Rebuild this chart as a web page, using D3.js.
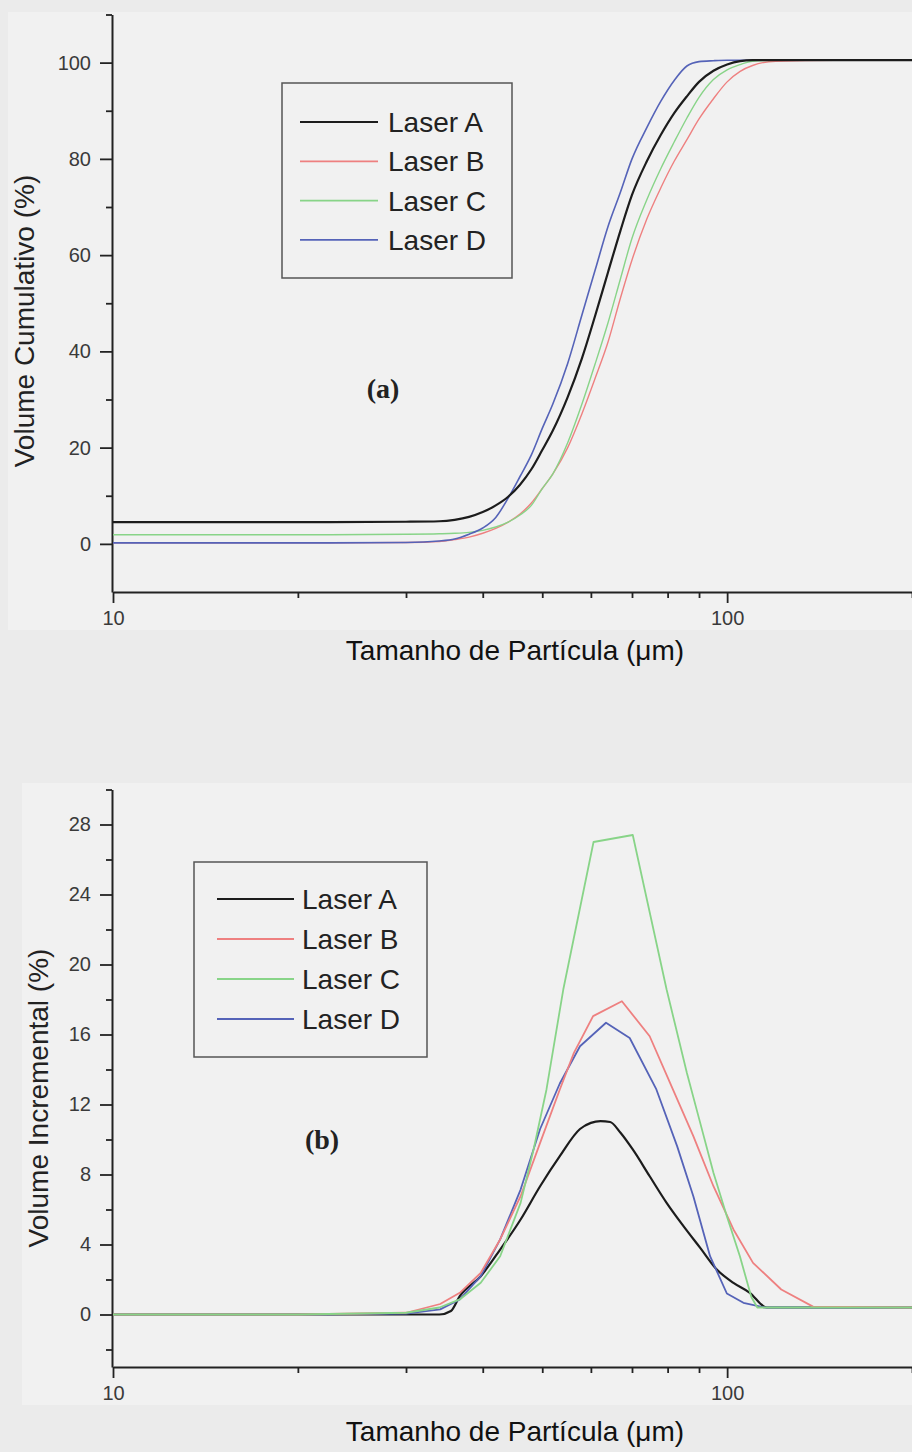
<!DOCTYPE html>
<html lang="pt">
<head>
<meta charset="UTF-8">
<title>Distribuição granulométrica - Laser A, B, C, D</title>
<script src="https://cdnjs.cloudflare.com/ajax/libs/d3/7.8.5/d3.min.js"></script>
<style>
    body { margin: 0; background: #ebebeb; }
    svg { display: block; }
    .axis text { font-family: "Liberation Sans", Arial, sans-serif; font-size: 20px; fill: #3a3a3a; }
    .axis .domain { stroke: #222; stroke-width: 2; }
    .axis line { stroke: #222; stroke-width: 1.8; }
</style>
</head>
<body>
<svg></svg>
<script>

    var width = 912;
    var height = 1452;

    var laserNames = ["Laser A", "Laser B", "Laser C", "Laser D"];
    var laserColors = ["#1c1c1c", "#ee8080", "#88d488", "#5563b8"];

    // (a) volume cumulativo, tamanho em micrometros
    var sizesCum = [10, 20, 30, 34, 36, 38, 40, 42, 44, 46, 48, 50, 52, 55, 58, 61, 64, 67, 70, 74,
                    78, 82, 86, 90, 95, 100, 105, 110, 120, 150, 200];
    var cumA = [4.5, 4.5, 4.6, 4.7, 5.0, 5.6, 6.6, 8.0, 9.8, 12.3, 15.5, 19.5, 23.5, 30.5, 38.5, 47.5, 56.5, 65, 72.5, 79.5,
                85, 89.5, 93, 96, 98.3, 99.6, 100.3, 100.5, 100.5, 100.5, 100.5];
    var cumB = [0.2, 0.2, 0.3, 0.5, 0.9, 1.4, 2.2, 3.2, 4.5, 6.2, 8.5, 11.5, 14.5, 20, 27, 34.5, 42, 51, 59, 67.5,
                74, 79.5, 84, 88.3, 92.5, 96, 98.2, 99.4, 100.3, 100.5, 100.5];
    var cumC = [1.9, 1.9, 2.0, 2.1, 2.2, 2.4, 2.8, 3.5, 4.5, 6.0, 8.0, 11.5, 14.5, 21, 29, 37.5, 46, 55, 63.5, 71.5,
                78, 83.5, 88.5, 92.8, 96.5, 98.5, 99.6, 100.3, 100.5, 100.5, 100.5];
    var cumD = [0.2, 0.2, 0.3, 0.6, 1.0, 2.0, 3.3, 5.5, 9.5, 14, 18.5, 24, 29, 37.5, 47.5, 57, 66, 73, 80, 86.5,
                92, 96.3, 99.3, 100.2, 100.4, 100.5, 100.5, 100.5, 100.5, 100.5, 100.5];

    // (b) volume incremental, cada laser com a sua grade de tamanhos
    var incSizesA = [10, 20, 30, 34, 35.5, 36.7, 39.7, 42.7, 46.1, 49.6, 53.4, 57.6, 60, 62.2, 64.5, 67, 70.2, 74.8, 79.7, 84.9,
                     90.4, 96.2, 102.4, 108.9, 116, 130, 200];
    var incA = [0, 0, 0, 0, 0.2, 1.05, 2.19, 3.71, 5.43, 7.33, 9.05, 10.6, 10.95, 11.05, 11.0, 10.4, 9.43, 7.9, 6.38, 5.05,
                3.81, 2.57, 1.81, 1.24, 0.4, 0.4, 0.4];
    var incSizesB = [10, 20, 30, 31.6, 34.1, 36.7, 39.7, 42.7, 46.1, 49.6, 53.4, 56.3, 60.5, 67.4, 74.8, 81.6, 88.1, 95.0, 102.4, 110.2,
                     122.5, 138, 200];
    var incB = [0, 0, 0.1, 0.3, 0.6, 1.24, 2.38, 4.29, 6.76, 9.81, 12.86, 14.95, 17.05, 17.9, 15.9, 12.86, 10.19, 7.33, 4.86, 2.95,
                1.43, 0.45, 0.4];
    var incSizesC = [10, 20, 30, 34, 36.7, 39.7, 42.7, 46.1, 48.4, 50.8, 54.1, 60.6, 70.2, 79.7, 86.0, 90.4, 95.0, 99.9, 104.9, 109.5,
                     112, 200];
    var incC = [0, 0, 0.1, 0.4, 0.86, 1.81, 3.33, 6.38, 9.43, 12.86, 18.57, 27.0, 27.4, 18.57, 13.8, 10.95, 8.1, 5.62, 3.33, 1.0,
                0.4, 0.4];
    var incSizesD = [10, 20, 30, 34.1, 36.7, 39.7, 42.7, 46.1, 49.6, 53.4, 57.6, 63.5, 69.4, 76.7, 82.9, 88.1, 93.8, 99.9, 106.3, 115,
                     200];
    var incD = [0, 0, 0.05, 0.29, 0.86, 2.19, 4.29, 7.14, 10.6, 13.2, 15.33, 16.67, 15.8, 12.86, 9.62, 6.76, 3.33, 1.2, 0.67, 0.4,
                0.4];

    var xMajor = [10, 100];
    var xMinor = [20, 30, 40, 50, 60, 70, 80, 90, 200];
    var yMajorCum = [0, 20, 40, 60, 80, 100];
    var yMinorCum = [10, 30, 50, 70, 90, 110];
    var yMajorInc = [0, 4, 8, 12, 16, 20, 24, 28];
    var yMinorInc = [-2, 2, 6, 10, 14, 18, 22, 26, 30];

    var xTitle = "Tamanho de Partícula (\u03bcm)";

    var svg = d3.select("svg").attr("width", width).attr("height", height);

    // fundo das duas figuras digitalizadas
    svg.append("rect").attr("x", 8).attr("y", 12).attr("width", 904).attr("height", 618).attr("fill", "#f1f1f1");
    svg.append("rect").attr("x", 22).attr("y", 783).attr("width", 890).attr("height", 622).attr("fill", "#f1f1f1");

    var drawPanel = function (p) {

        var x = d3.scaleLog().domain([10, 200]).range([113, 912]);
        var y = d3.scaleLinear().domain(p.yDomain).range([p.bottom, p.top]);
        var g = svg.append("g");

        // eixo x
        g.append("g").attr("class", "axis")
            .attr("transform", "translate(0," + p.bottom + ")")
            .call(d3.axisBottom(x).tickValues(xMajor).tickFormat(d3.format("d"))
                .tickSize(11).tickPadding(8).tickSizeOuter(0));
        g.append("g").attr("class", "axis")
            .attr("transform", "translate(0," + p.bottom + ")")
            .call(d3.axisBottom(x).tickValues(xMinor).tickFormat("").tickSize(6).tickSizeOuter(0))
            .select(".domain").remove();

        // eixo y
        g.append("g").attr("class", "axis")
            .attr("transform", "translate(112,0)")
            .call(d3.axisLeft(y).tickValues(p.yMajor).tickFormat(d3.format("d"))
                .tickSize(12).tickPadding(9).tickSizeOuter(0));
        g.append("g").attr("class", "axis")
            .attr("transform", "translate(112,0)")
            .call(d3.axisLeft(y).tickValues(p.yMinor).tickFormat("").tickSize(6).tickSizeOuter(0))
            .select(".domain").remove();

        // curvas
        p.series.forEach(function (s) {
            var line = d3.line()
                .x(function (d) { return x(d[0]); })
                .y(function (d) { return y(d[1]); })
                .curve(s.curve);
            g.append("path")
                .datum(d3.zip(s.sizes, s.values))
                .attr("d", line)
                .attr("fill", "none")
                .attr("stroke", s.color)
                .attr("stroke-width", s.width)
                .attr("stroke-linejoin", "round");
        });

        // legenda
        var lg = p.legend;
        g.append("rect")
            .attr("x", lg.x).attr("y", lg.y).attr("width", lg.w).attr("height", lg.h)
            .attr("fill", "none").attr("stroke", "#555").attr("stroke-width", 1.5);
        laserNames.forEach(function (name, i) {
            var ly = lg.y + lg.first + i * lg.step;
            g.append("line")
                .attr("x1", lg.x + lg.lineFrom).attr("x2", lg.x + lg.lineTo)
                .attr("y1", ly).attr("y2", ly)
                .attr("stroke", laserColors[i]).attr("stroke-width", i === 0 ? 2.2 : 1.8);
            g.append("text")
                .attr("x", lg.x + lg.textX).attr("y", ly)
                .attr("dy", "0.36em")
                .style("font-family", "'Liberation Sans', Arial, sans-serif")
                .style("font-size", "28px").style("fill", "#222")
                .text(name);
        });

        // rotulo (a) / (b)
        g.append("text")
            .attr("x", p.tag[0]).attr("y", p.tag[1])
            .attr("text-anchor", "middle").attr("dy", "0.35em")
            .style("font-family", "'Liberation Serif', 'Times New Roman', serif")
            .style("font-weight", "bold").style("font-size", "28px").style("fill", "#222")
            .text(p.tagText);

        // titulos dos eixos
        g.append("text")
            .attr("x", 515).attr("y", p.xTitleY)
            .attr("text-anchor", "middle")
            .style("font-family", "'Liberation Sans', Arial, sans-serif")
            .style("font-size", "28px").style("fill", "#111")
            .text(xTitle);
        g.append("text")
            .attr("transform", "translate(" + p.yTitle[0] + "," + p.yTitle[1] + ") rotate(-90)")
            .attr("text-anchor", "middle")
            .style("font-family", "'Liberation Sans', Arial, sans-serif")
            .style("font-size", "28px").style("fill", "#222")
            .text(p.yTitleText);
    };

    drawPanel({
        yDomain: [-10, 110], bottom: 592, top: 14.5,
        yMajor: yMajorCum, yMinor: yMinorCum,
        series: [
            { color: laserColors[1], width: 1.4, sizes: sizesCum, values: cumB, curve: d3.curveMonotoneX },
            { color: laserColors[2], width: 1.4, sizes: sizesCum, values: cumC, curve: d3.curveMonotoneX },
            { color: laserColors[3], width: 1.6, sizes: sizesCum, values: cumD, curve: d3.curveMonotoneX },
            { color: laserColors[0], width: 2.2, sizes: sizesCum, values: cumA, curve: d3.curveMonotoneX }
        ],
        legend: { x: 282, y: 83, w: 230, h: 195, first: 39, step: 39.3, lineFrom: 18, lineTo: 96, textX: 106 },
        tag: [383, 388], tagText: "(a)",
        xTitleY: 660,
        yTitle: [34, 321], yTitleText: "Volume Cumulativo (%)"
    });

    drawPanel({
        yDomain: [-3, 30], bottom: 1367, top: 789.5,
        yMajor: yMajorInc, yMinor: yMinorInc,
        series: [
            { color: laserColors[0], width: 2.2, sizes: incSizesA, values: incA, curve: d3.curveMonotoneX },
            { color: laserColors[3], width: 1.8, sizes: incSizesD, values: incD, curve: d3.curveLinear },
            { color: laserColors[1], width: 1.8, sizes: incSizesB, values: incB, curve: d3.curveLinear },
            { color: laserColors[2], width: 1.8, sizes: incSizesC, values: incC, curve: d3.curveLinear }
        ],
        legend: { x: 194, y: 862, w: 233, h: 195, first: 37, step: 40, lineFrom: 23, lineTo: 100, textX: 108 },
        tag: [322, 1139], tagText: "(b)",
        xTitleY: 1441,
        yTitle: [48, 1098], yTitleText: "Volume Incremental (%)"
    });
</script>
</body>
</html>
